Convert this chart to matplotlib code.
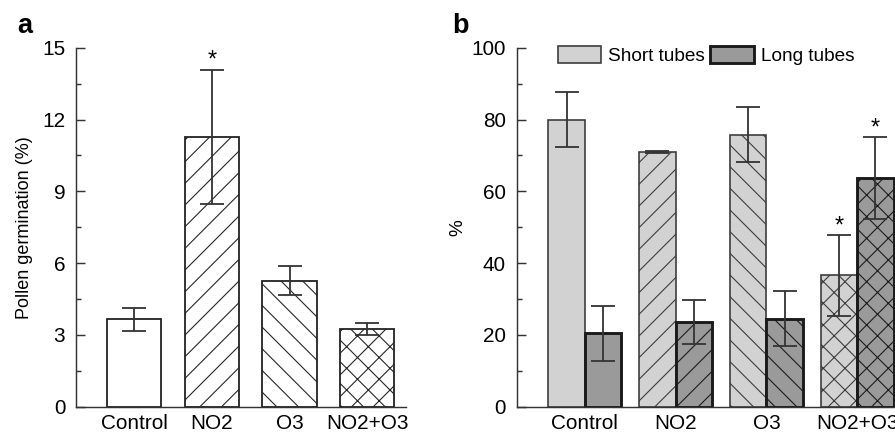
import numpy as np
import matplotlib
matplotlib.use("Agg")
from matplotlib import pyplot as plt
from matplotlib.ticker import MultipleLocator

plt.rcParams['font.family'] = ['Liberation Sans', 'DejaVu Sans']
plt.rcParams['hatch.linewidth'] = 0.6

treatments = ["Control", "NO2", "O3", "NO2+O3"]
hatches = [None, "//", "\\\\", "xx"]

# panel a: pollen germination (%)
germination = [3.65, 11.28, 5.27, 3.26]
germination_err = [0.48, 2.8, 0.59, 0.25]
germination_star = [False, True, False, False]

# panel b: short / long tubes (%)
short_tubes = [80.0, 70.9, 75.8, 36.6]
short_err = [7.6, 0.3, 7.6, 11.2]
short_star = [False, False, False, True]
long_tubes = [20.4, 23.5, 24.5, 63.7]
long_err = [7.6, 6.1, 7.6, 11.3]
long_star = [False, False, False, True]

DPI = 130
fig = plt.figure(figsize=(895 / DPI, 432 / DPI), dpi=DPI)

axis_color = "#333333"
err_kw = dict(ecolor="#333333", elinewidth=1.0, capsize=6.5, capthick=1.0)
TICK_FS = 11.5


def style_axis(ax, major, minor, top):
    ax.set_ylim(0, top)
    ax.set_xlim(-0.75, 3.5)
    ax.yaxis.set_major_locator(MultipleLocator(major))
    ax.yaxis.set_minor_locator(MultipleLocator(minor))
    ax.tick_params(axis='y', which='major', direction='in', length=5, width=0.8,
                   color=axis_color, labelsize=TICK_FS, pad=6)
    ax.tick_params(axis='y', which='minor', direction='in', length=3, width=0.8,
                   color=axis_color)
    ax.tick_params(axis='x', length=0, labelsize=TICK_FS, pad=4)
    ax.set_xticks(np.arange(len(treatments)))
    ax.set_xticklabels(treatments)
    for side in ['top', 'right']:
        ax.spines[side].set_visible(False)
    for side in ['left', 'bottom']:
        ax.spines[side].set_color(axis_color)
        ax.spines[side].set_linewidth(0.8)


def add_stars(ax, xs, vals, errs, flags):
    for x, v, e, f in zip(xs, vals, errs, flags):
        if f:
            ax.annotate("*", (x, v + e), xytext=(0, 1.5), textcoords="offset points",
                        ha='center', va='baseline', fontsize=13)


# ---- panel a ----
ax_a = fig.add_axes([76 / 895, 1 - 406.7 / 432, 330 / 895, 359 / 432])
x = np.arange(len(treatments))
for i in range(len(treatments)):
    ax_a.bar(x[i], germination[i], width=0.7, color="white", edgecolor="#222222",
             linewidth=1.0, hatch=hatches[i], zorder=2)
ax_a.errorbar(x, germination, yerr=germination_err, fmt='none', zorder=3, **err_kw)
add_stars(ax_a, x, germination, germination_err, germination_star)
style_axis(ax_a, 3, 1.5, 15)
ax_a.set_ylabel("Pollen germination (%)", fontsize=10, labelpad=5)
fig.text(17 / 895, 1 - 33 / 432, "a", fontsize=15, fontweight='bold')

# ---- panel b ----
ax_b = fig.add_axes([516.7 / 895, 1 - 406.7 / 432, 386 / 895, 359 / 432])
w = 0.4
for i in range(len(treatments)):
    ax_b.bar(x[i] - w / 2, short_tubes[i], width=w, color="#d2d2d2", edgecolor="#3a3a3a",
             linewidth=0.9, hatch=hatches[i], zorder=2,
             label="Short tubes" if i == 0 else None)
    ax_b.bar(x[i] + w / 2, long_tubes[i], width=w, color="#9a9a9a", edgecolor="#1a1a1a",
             linewidth=1.6, hatch=hatches[i], zorder=2,
             label="Long tubes" if i == 0 else None)
ax_b.errorbar(x - w / 2, short_tubes, yerr=short_err, fmt='none', zorder=3, **err_kw)
ax_b.errorbar(x + w / 2, long_tubes, yerr=long_err, fmt='none', zorder=3, **err_kw)
add_stars(ax_b, x - w / 2, short_tubes, short_err, short_star)
add_stars(ax_b, x + w / 2, long_tubes, long_err, long_star)
style_axis(ax_b, 20, 10, 100)
ax_b.set_ylabel("%", fontsize=10.5, labelpad=3)
ax_b.legend(loc='upper left', bbox_to_anchor=(41 / 386, 1.0 + 2 / 359), ncol=2,
            frameon=False, fontsize=10.5, handlelength=2.3, handleheight=1.05,
            handletextpad=0.35, columnspacing=0.3, borderaxespad=0, borderpad=0)
fig.text(452 / 895, 1 - 33 / 432, "b", fontsize=15, fontweight='bold')

fig.savefig("out.png", dpi=DPI)
